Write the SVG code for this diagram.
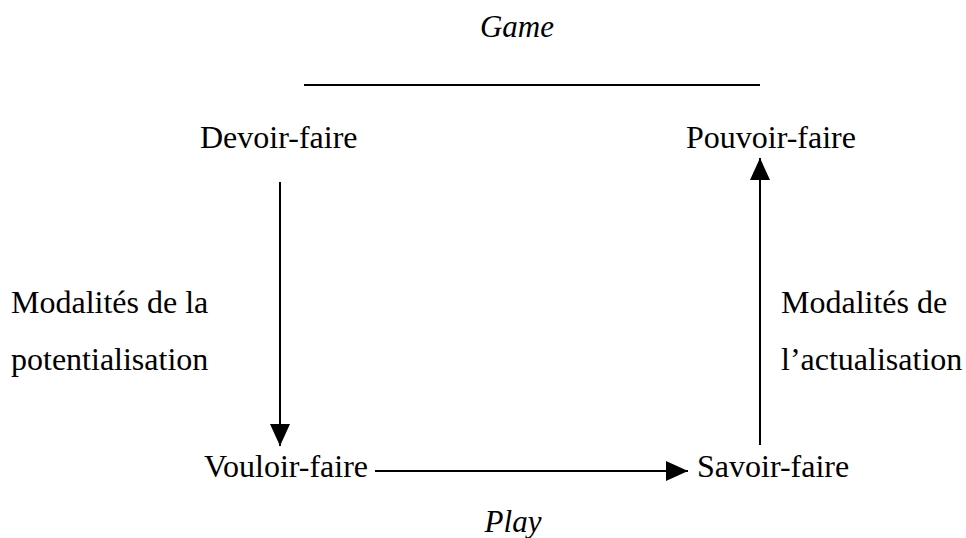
<svg xmlns="http://www.w3.org/2000/svg" width="966" height="538" viewBox="0 0 966 538">
<style>
text{font-family:"Liberation Serif","Times New Roman",serif;fill:#000;font-size:32px}
.it{font-style:italic;font-size:31px}
.ln{stroke:#000;stroke-width:2;fill:none}
</style>
<defs>
<marker id="ah" viewBox="0 0 22 20" refX="22" refY="10" markerWidth="22" markerHeight="20" markerUnits="userSpaceOnUse" orient="auto">
<path d="M0,0 L22,10 L0,20 Z" fill="#000"/>
</marker>
</defs>
<rect width="966" height="538" fill="#fff"/>
<g id="game"><text class="it" x="517" y="37" text-anchor="middle">Game</text></g>
<g id="bar"><line class="ln" x1="304" y1="85" x2="760" y2="85"/></g>
<g id="devoir"><text x="200" y="148">Devoir-faire</text></g>
<g id="pouvoir"><text x="686" y="148">Pouvoir-faire</text></g>
<g id="vouloir"><text x="204" y="477">Vouloir-faire</text></g>
<g id="savoir"><text x="697" y="477">Savoir-faire</text></g>
<g id="label-left"><text x="11" y="313">Modalités de la</text><text x="11" y="370">potentialisation</text></g>
<g id="label-right"><text x="781" y="313">Modalités de</text><text x="781" y="370">l’actualisation</text></g>
<g id="play"><text class="it" x="513" y="532" text-anchor="middle">Play</text></g>
<g id="connectors">
<line class="ln" x1="280" y1="182" x2="280" y2="446" marker-end="url(#ah)"/>
<line class="ln" x1="375" y1="471" x2="688" y2="471" marker-end="url(#ah)"/>
<line class="ln" x1="760" y1="445" x2="760" y2="158" marker-end="url(#ah)"/>
</g>
</svg>
